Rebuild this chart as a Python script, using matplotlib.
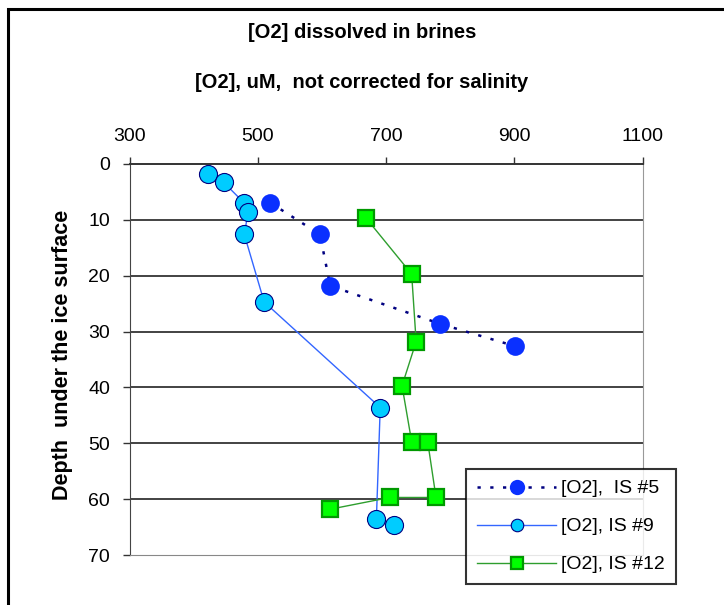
import matplotlib
matplotlib.use("Agg")
import matplotlib.pyplot as plt
from matplotlib.patches import Rectangle

plt.rcParams["font.family"] = ["Liberation Sans", "DejaVu Sans"]

# [O2] (uM) vs depth
is5_o2 = [519, 597, 613, 784, 901]
is5_depth = [6.9, 12.6, 21.8, 28.6, 32.6]

is9_o2 = [423, 447, 479, 485, 479, 510, 691, 685, 713]
is9_depth = [1.8, 3.3, 7.0, 8.6, 12.6, 24.7, 43.6, 63.6, 64.6]

is12_o2 = [669, 740, 747, 725, 740, 765, 778, 706, 613]
is12_depth = [9.7, 19.7, 31.8, 39.7, 49.7, 49.7, 59.7, 59.7, 61.8]

x_ticks = [300, 500, 700, 900, 1100]
y_ticks = [0, 10, 20, 30, 40, 50, 60, 70]

W, H = 724, 605
fig = plt.figure(figsize=(W / 100, H / 100), dpi=100)
ax = fig.add_axes([129.5 / W, 1 - 555 / H, (642.5 - 129.5) / W, (555 - 164) / H])

ax.plot(is5_o2, is5_depth, color="#000080", lw=1.8, dashes=(1.3, 3.8),
        marker="o", ms=13.5, mfc="#0A30FF", mec="#0A30FF", mew=0,
        label="[O2],  IS #5", zorder=4)
ax.plot(is9_o2, is9_depth, color="#3366FF", lw=1,
        marker="o", ms=13, mfc="#00CCFF", mec="#000080", mew=0.8,
        label="[O2], IS #9", zorder=3)
ax.plot(is12_o2, is12_depth, color="#2E9E2E", lw=1,
        marker="s", ms=12, mfc="#00FF00", mec="#009900", mew=1.6,
        label="[O2], IS #12", zorder=3)

ax.set_xlim(300, 1100)
ax.set_ylim(70, 0)
ax.set_xticks(x_ticks)
ax.set_yticks(y_ticks)
ax.xaxis.tick_top()
ax.tick_params(axis="x", direction="out", length=5, width=1, pad=9, labelsize=14, color="#333333")
ax.tick_params(axis="y", direction="out", length=5, width=1, pad=9, labelsize=14, color="#333333")

for y in y_ticks[1:-1]:
    ax.axhline(y, color="#222222", lw=1.2, zorder=1)
ax.spines["left"].set_color("#444444")
ax.spines["top"].set_color("#333333")
ax.spines["top"].set_linewidth(1.4)
ax.spines["right"].set_color("#999999")
ax.spines["bottom"].set_color("#888888")

fig.text(362 / W, 1 - 32 / H, "[O2] dissolved in brines", ha="center", va="center",
         fontsize=14.5, fontweight="bold")
fig.text(362 / W, 1 - 82 / H, "[O2], uM,  not corrected for salinity", ha="center", va="center",
         fontsize=14.5, fontweight="bold")
fig.text(63 / W, 1 - 355 / H, "Depth  under the ice surface", ha="center", va="center",
         rotation=90, fontsize=15.5, fontweight="bold")

leg = fig.legend(loc="upper left", bbox_to_anchor=(466 / W, 1 - 469 / H),
                 fontsize=14, frameon=True, fancybox=False, handlelength=4.1,
                 borderaxespad=0, borderpad=0.55, labelspacing=1.05, handletextpad=0.25)
leg.get_frame().set_edgecolor("black")
leg.get_frame().set_linewidth(1.5)
for h, s in zip(leg.legend_handles, [11, 9, 8]):
    h.set_markersize(s)

fig.patches.append(Rectangle((8 / W, -0.1), 1.2, 1 - 9 / H + 0.1, transform=fig.transFigure,
                             fill=False, edgecolor="black", lw=2.2))

fig.savefig("out.png", dpi=100)
